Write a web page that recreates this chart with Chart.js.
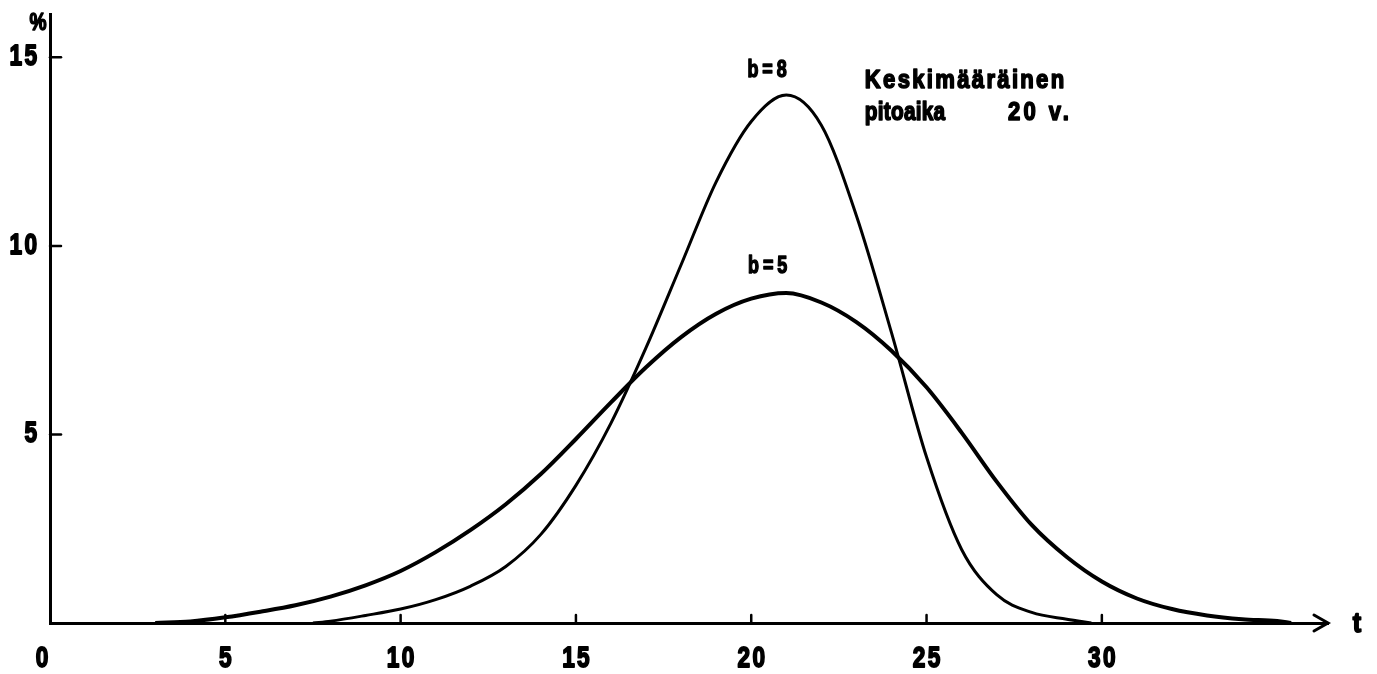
<!DOCTYPE html>
<html>
<head>
<meta charset="utf-8">
<script src="https://cdn.jsdelivr.net/npm/chart.js@4.4.1/dist/chart.umd.min.js"></script>
<style>
    html, body { margin: 0; padding: 0; background: #fff; }
    #wrap { width: 1377px; height: 674px; }
</style>
</head>
<body>
<div id="wrap"><canvas id="weibullChart"></canvas></div>
<script>
/* DATA (luettu kuvasta) */

// b = 5
const yearsB5 = [3, 4, 5, 6, 7, 8, 9, 10, 11, 12, 13, 14, 15, 16, 17, 18, 19, 20, 21, 22, 23, 24, 25, 26, 27, 28, 29, 30, 31, 32, 33, 34, 35, 35.4];
const pctB5 = [0, 0.04, 0.15, 0.3, 0.47, 0.7, 1.0, 1.38, 1.88, 2.47, 3.15, 3.95, 4.88, 5.85, 6.78, 7.58, 8.2, 8.6, 8.75, 8.5, 7.98, 7.22, 6.25, 5.05, 3.75, 2.6, 1.75, 1.1, 0.65, 0.37, 0.2, 0.1, 0.05, 0];

// b = 8
const yearsB8 = [7.5, 8, 9, 10, 11, 12, 13, 14, 15, 16, 17, 18, 19, 20, 21, 22, 23, 24, 25, 26, 27, 28, 29, 29.7];
const pctB8 = [0, 0.05, 0.2, 0.37, 0.62, 0.98, 1.5, 2.35, 3.65, 5.3, 7.3, 9.5, 11.7, 13.3, 14.0, 13.2, 10.8, 7.7, 4.4, 1.95, 0.75, 0.28, 0.1, 0];

// akselit
const xTicks = [0, 5, 10, 15, 20, 25, 30];
const yTicks = [5, 10, 15];
const xMax = 36.45;
const yMax = 16.15;

const FONT = "'Liberation Sans', Arial, sans-serif";
const INK = '#000';
const SQUEEZE = 0.78; // kapea fontti: puristetaan vaakasuunnassa

function toPoints(xs, ys) {
    return xs.map((x, i) => ({ x: x, y: ys[i] }));
}

// teksti kapeana ja lihavana, valistys mukana
function drawText(ctx, text, x, y, size, spacing, align, squeeze) {
    const sq = squeeze || SQUEEZE;
    ctx.save();
    ctx.font = 'bold ' + size + 'px ' + FONT;
    ctx.letterSpacing = spacing + 'px';
    const w = (ctx.measureText(text).width - spacing) * sq;
    let x0 = x;
    if (align === 'center') x0 = x - w / 2;
    if (align === 'right') x0 = x - w;
    ctx.translate(x0, y);
    ctx.scale(sq, 1);
    ctx.textAlign = 'left';
    ctx.textBaseline = 'middle';
    ctx.lineWidth = size / 16;
    ctx.lineJoin = 'round';
    ctx.fillText(text, 0, 0);
    ctx.strokeText(text, 0, 0);
    ctx.restore();
}

// Piirretaan nuoli, tikit ja tekstit kasin
const decorPlugin = {
    id: 'decor',
    afterDraw(chart) {
        const ctx = chart.ctx;
        const xs = chart.scales.x;
        const ys = chart.scales.y;
        const { left, right, top, bottom } = chart.chartArea;

        ctx.save();
        ctx.strokeStyle = INK;
        ctx.fillStyle = INK;
        ctx.lineCap = 'round';

        // nuolenkarki x-akselin paahan
        ctx.lineWidth = 3;
        ctx.beginPath();
        ctx.moveTo(right - 14, bottom - 8);
        ctx.lineTo(right, bottom);
        ctx.lineTo(right - 14, bottom + 8);
        ctx.stroke();

        // tikit sisaanpain
        ctx.lineWidth = 2.5;
        xTicks.forEach(v => {
            if (v === 0) return;
            const px = xs.getPixelForValue(v);
            ctx.beginPath();
            ctx.moveTo(px, bottom);
            ctx.lineTo(px, bottom - 8);
            ctx.stroke();
        });
        yTicks.forEach(v => {
            const py = ys.getPixelForValue(v);
            ctx.beginPath();
            ctx.moveTo(left, py);
            ctx.lineTo(left + 11, py);
            ctx.stroke();
        });

        // akselien numerot
        xTicks.forEach(v => {
            const px = xs.getPixelForValue(v) - (v === 0 ? 8 : 0);
            drawText(ctx, String(v), px, bottom + 36, 29, 3, 'center');
        });
        yTicks.forEach(v => {
            drawText(ctx, String(v), left - 13, ys.getPixelForValue(v), 29, 3, 'right');
        });

        // yksikot
        drawText(ctx, '%', left - 12, top + 9, 24, 0, 'center', 0.8);
        drawText(ctx, 't', right + 29, bottom + 1, 28, 0, 'center', 0.9);

        // kayrien nimet
        drawText(ctx, 'b=8', xs.getPixelForValue(20.45), ys.getPixelForValue(14.66), 23, 5, 'center');
        drawText(ctx, 'b=5', xs.getPixelForValue(20.47), ys.getPixelForValue(9.46), 23, 5, 'center');

        // selite
        const tx = xs.getPixelForValue(23.24);
        drawText(ctx, 'Keskimääräinen', tx, ys.getPixelForValue(14.37), 26, 2.7, 'left', 0.85);
        drawText(ctx, 'pitoaika', tx, ys.getPixelForValue(13.52), 26, 0.3, 'left', 0.8);
        drawText(ctx, '20 v.', xs.getPixelForValue(27.32), ys.getPixelForValue(13.52), 26, 4, 'left', 0.85);

        ctx.restore();
    }
};

document.addEventListener('DOMContentLoaded', () => {
    const canvas = document.getElementById('weibullChart');

    new Chart(canvas, {
        type: 'line',
        data: {
            datasets: [
                {
                    label: 'b=5',
                    data: toPoints(yearsB5, pctB5),
                    borderColor: INK,
                    borderWidth: 4,
                    pointRadius: 0,
                    cubicInterpolationMode: 'monotone',
                    fill: false
                },
                {
                    label: 'b=8',
                    data: toPoints(yearsB8, pctB8),
                    borderColor: INK,
                    borderWidth: 3,
                    pointRadius: 0,
                    cubicInterpolationMode: 'monotone',
                    fill: false
                }
            ]
        },
        options: {
            responsive: true,
            maintainAspectRatio: false,
            animation: false,
            layout: { padding: { left: 50, right: 49, top: 14, bottom: 51 } },
            plugins: {
                legend: { display: false },
                tooltip: { enabled: false }
            },
            scales: {
                x: {
                    type: 'linear',
                    min: 0,
                    max: xMax,
                    grid: { display: false, drawTicks: false },
                    border: { display: true, color: INK, width: 3 },
                    ticks: { display: false },
                    afterFit: (s) => { s.height = 0; }
                },
                y: {
                    min: 0,
                    max: yMax,
                    grid: { display: false, drawTicks: false },
                    border: { display: true, color: INK, width: 3 },
                    ticks: { display: false },
                    afterFit: (s) => { s.width = 0; }
                }
            }
        },
        plugins: [decorPlugin]
    });
});
</script>
</body>
</html>
